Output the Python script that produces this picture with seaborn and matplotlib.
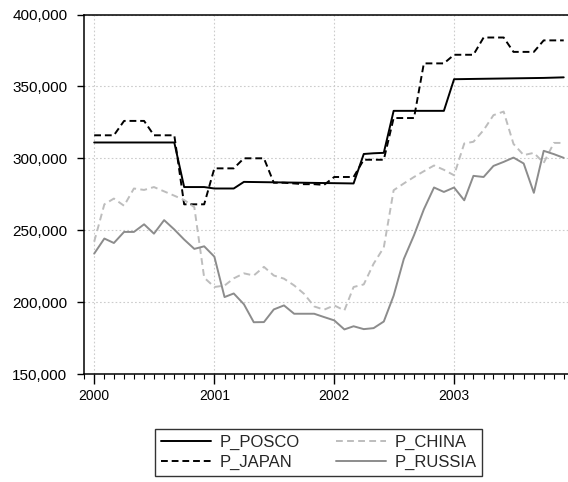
import matplotlib
matplotlib.use("Agg")
import matplotlib.pyplot as plt
import matplotlib.dates as mdates
import matplotlib.ticker as mticker
import pandas as pd
import seaborn as sns

# monthly prices, Jan 2000 - Dec 2003
months = pd.date_range("2000-01-01", periods=48, freq="MS")

p_posco = [311000, 311000, 311000, 311000, 311000, 311000, 311000, 311000, 311000,
           280000, 280000, 280000, 279000, 279000, 279000,
           283600, 283500, 283400, 283300, 283200, 283100, 283000, 282900, 282800,
           282700, 282600, 282500,
           303000, 303500, 303800,
           333000, 333000, 333000, 333000, 333000, 333000,
           355000, 355100, 355200, 355300, 355400, 355500, 355600, 355700, 355800,
           355900, 356100, 356300]

p_japan = [316000, 316000, 316000, 326000, 326000, 326000, 316000, 316000, 316000,
           268000, 268000, 268000, 293000, 293000, 293000, 300000, 300000, 300000,
           283000, 283000, 282500, 282000, 282000, 281500,
           287000, 287000, 287000, 299000, 299000, 299000,
           328000, 328000, 328000, 366000, 366000, 366000,
           372000, 372000, 372000, 384000, 384000, 384000,
           374000, 374000, 374000, 382000, 382000, 382000]

p_china = [242000, 268000, 272000, 267000, 279000, 278000, 280000, 277000, 274000,
           271000, 266000, 217000, 210500, 211500, 216500, 220000, 218500, 224500,
           218500, 216300, 211600, 205800, 197000, 194700, 197700, 194200, 210500,
           212300, 226700, 238000, 277800, 282500, 287000, 291000, 295000, 292000,
           288200, 310300, 311500, 319600, 330000, 332500, 310000, 302200, 303800,
           296800, 310700, 310700]

p_russia = [233700, 244200, 241100, 248800, 248800, 254100, 247600, 257000, 250500,
            243500, 237000, 238800, 231600, 203500, 206000, 198500, 186000, 186100,
            194900, 197700, 191900, 191900, 191900, 189600, 187300, 181000, 183200,
            181200, 181900, 186500, 204500, 230000, 246500, 264500, 279700, 276600,
            279700, 270800, 287800, 287000, 294700, 297500, 300500, 296400, 276000,
            305200, 302900, 300300]

names = ["P_POSCO", "P_JAPAN", "P_CHINA", "P_RUSSIA"]

df = pd.DataFrame({"date": months, "P_POSCO": p_posco, "P_JAPAN": p_japan,
                   "P_CHINA": p_china, "P_RUSSIA": p_russia})
long = df.melt(id_vars="date", var_name="series", value_name="price")

sns.set_style("white")
plt.rcParams["font.family"] = ["Liberation Sans", "DejaVu Sans"]
plt.rcParams["font.size"] = 11

fig = plt.figure(figsize=(5.68, 4.82), dpi=100)
ax = fig.add_axes([84 / 568, 1 - 374 / 482, (568 - 84) / 568, (374 - 14.5) / 482])

palette = {"P_POSCO": "black", "P_JAPAN": "black", "P_CHINA": "#bdbdbd", "P_RUSSIA": "#8c8c8c"}
dashes = {"P_POSCO": "", "P_JAPAN": (3.5, 2.0), "P_CHINA": (3.5, 2.2), "P_RUSSIA": ""}

sns.lineplot(data=long, x="date", y="price", hue="series", style="series",
             hue_order=names, style_order=names, palette=palette, dashes=dashes,
             linewidth=1.4, errorbar=None, ax=ax)

ax.set_xlim(pd.Timestamp("1999-12-01"), pd.Timestamp("2003-12-14"))
ax.set_ylim(150000, 400000)
ax.yaxis.set_major_locator(mticker.MultipleLocator(50000))
ax.yaxis.set_major_formatter(mticker.StrMethodFormatter("{x:,.0f}"))
ax.xaxis.set_major_locator(mdates.YearLocator())
ax.xaxis.set_major_formatter(mdates.DateFormatter("%Y"))
ax.xaxis.set_minor_locator(mdates.MonthLocator())
ax.set_xlabel("")
ax.set_ylabel("")

ax.grid(True, which="major", color="#cccccc", linestyle=(0, (1.5, 2)), linewidth=0.8)
ax.tick_params(axis="y", which="major", direction="out", length=5, width=1,
               pad=7, labelsize=11, left=True, colors="black")
ax.tick_params(axis="x", which="major", direction="out", length=7, width=1,
               pad=4, labelsize=10, bottom=True, colors="black")
ax.tick_params(axis="x", which="minor", direction="out", length=3.5, width=0.8,
               bottom=True, colors="black")
ax.spines["right"].set_visible(False)
for s in ["left", "top", "bottom"]:
    ax.spines[s].set_color("black")
    ax.spines[s].set_linewidth(1.1)

sns.move_legend(ax, loc="upper left", bbox_to_anchor=(155 / 568, 1 - 429 / 482),
                bbox_transform=fig.transFigure, ncol=2, title=None, frameon=True,
                fancybox=False, edgecolor="black", fontsize=12, handlelength=3.0,
                handletextpad=0.5, columnspacing=2.2, labelspacing=0.3,
                borderpad=0.35, borderaxespad=0)
leg = ax.get_legend()
leg.get_frame().set_linewidth(1.0)

fig.savefig("out.png", dpi=100)
